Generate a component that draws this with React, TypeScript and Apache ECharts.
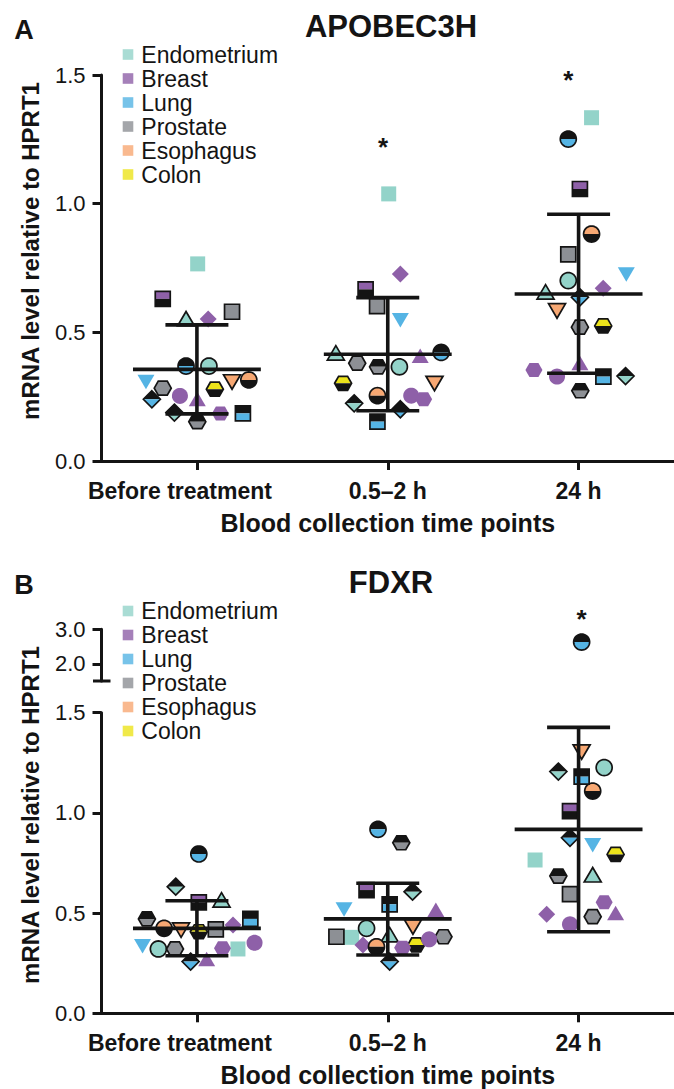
import React, { useEffect, useRef } from "react";
import * as echarts from "echarts";

const FONT = '"Liberation Sans", Arial, Helvetica, sans-serif';
const INK = "#141414";

// ---------- categories / legend ----------
const categories = ["Before treatment", "0.5–2 h", "24 h"];
const tissues = ["Endometrium", "Breast", "Lung", "Prostate", "Esophagus", "Colon"];
const tissueColors = ["#93d3c9", "#8e60a8", "#55b4e4", "#8d9095", "#f7a873", "#ece31b"];

// ---------- patient markers (P1..P19) ----------
const patientShape = [
  "square", "square", "triangle", "diamond", "square", "circle", "circle", "invTriangle", "hexagon", "invTriangle",
  "circle", "hexagon", "circle", "triangle", "diamond", "diamond", "hexagon", "square", "hexagon",
];
const patientTissue = [0, 1, 0, 1, 3, 2, 0, 2, 3, 4, 4, 5, 1, 1, 2, 0, 1, 2, 3];
const patientStyle = [
  "plain", "colorTop", "outline", "plain", "outline", "blackTop", "outline", "plain", "outline", "outline",
  "colorTop", "colorTop", "plain", "plain", "blackTop", "blackTop", "plain", "blackTop", "blackTop",
];

// ---------- Panel A: APOBEC3H (x = jittered position on a 0–3 scale, y = value) ----------
const aBeforeX = [0.504, 0.321, 0.443, 0.559, 0.684, 0.443, 0.563, 0.233, 0.321, 0.684, 0.772, 0.594, 0.411, 0.502, 0.264, 0.382, 0.623, 0.741, 0.502];
const aBeforeY = [0.766, 0.630, 0.552, 0.552, 0.580, 0.369, 0.369, 0.308, 0.283, 0.308, 0.315, 0.279, 0.253, 0.240, 0.240, 0.188, 0.185, 0.185, 0.153];
const aMidX = [1.505, 1.384, 1.228, 1.566, 1.444, 1.780, 1.561, 1.566, 1.340, 1.745, 1.446, 1.266, 1.623, 1.670, 1.566, 1.324, 1.688, 1.446, 1.449];
const aMidY = [1.038, 0.667, 0.419, 0.727, 0.602, 0.422, 0.366, 0.548, 0.380, 0.302, 0.254, 0.302, 0.254, 0.408, 0.201, 0.224, 0.240, 0.153, 0.366];
const a24X = [2.568, 2.507, 2.327, 2.629, 2.446, 2.446, 2.446, 2.750, 2.507, 2.387, 2.568, 2.629, 2.387, 2.507, 2.507, 2.746, 2.266, 2.630, 2.509];
const a24Y = [1.334, 1.057, 0.656, 0.671, 0.803, 1.251, 0.701, 0.726, 0.520, 0.584, 0.882, 0.525, 0.328, 0.380, 0.636, 0.330, 0.354, 0.328, 0.273];
const aMean = [0.356, 0.415, 0.649];
const aSdHigh = [0.529, 0.635, 0.959];
const aSdLow = [0.183, 0.195, 0.341];
const aStarX = [1.476, 2.446];
const aStarY = [1.222, 1.481];

// ---------- Panel B: FDXR ----------
const bBeforeX = [0.715, 0.510, 0.629, 0.689, 0.599, 0.510, 0.298, 0.215, 0.385, 0.417, 0.328, 0.510, 0.802, 0.551, 0.467, 0.389, 0.634, 0.780, 0.238];
const bBeforeY = [0.321, 0.554, 0.565, 0.440, 0.419, 0.795, 0.321, 0.336, 0.321, 0.416, 0.424, 0.407, 0.352, 0.270, 0.258, 0.632, 0.324, 0.471, 0.471];
const bMidX = [1.311, 1.389, 1.510, 1.370, 1.231, 1.449, 1.389, 1.271, 1.792, 1.632, 1.441, 1.649, 1.717, 1.752, 1.510, 1.630, 1.578, 1.510, 1.571];
const bMidY = [0.379, 0.615, 0.391, 0.341, 0.382, 0.918, 0.424, 0.519, 0.382, 0.432, 0.332, 0.341, 0.369, 0.515, 0.258, 0.607, 0.327, 0.544, 0.851];
const b24X = [2.272, 2.455, 2.574, 2.333, 2.455, 2.516, 2.634, 2.574, 2.574, 2.516, 2.574, 2.694, 2.455, 2.694, 2.455, 2.394, 2.634, 2.516, 2.394];
const b24Y = [0.765, 1.009, 0.690, 0.494, 0.595, 2.63, 1.226, 0.840, 0.482, 1.305, 1.109, 0.793, 0.444, 0.499, 0.876, 1.206, 0.554, 1.181, 0.685];
const bMean = [0.424, 0.471, 0.918];
const bSdHigh = [0.562, 0.649, 1.427];
const bSdLow = [0.287, 0.291, 0.407];
const bStarX = [2.516];
const bStarY = [3.31];

const yTicksLower = [0, 0.5, 1.0, 1.5];
const yTicksUpper = [2.0, 3.0];
const BREAK_AT = 1.5;

// ---------- helpers ----------
function basePoints(shape: string): number[][] {
  switch (shape) {
    case "square":
      return [[-7.5, -7.5], [7.5, -7.5], [7.5, 7.5], [-7.5, 7.5]];
    case "triangle":
      return [[0, -7.5], [8.5, 7], [-8.5, 7]];
    case "invTriangle":
      return [[-8.5, -7], [8.5, -7], [0, 7.5]];
    case "diamond":
      return [[0, -8.5], [8.5, 0], [0, 8.5], [-8.5, 0]];
    case "hexagon":
      return [[-8.5, 0], [-4.5, -7], [4.5, -7], [8.5, 0], [4.5, 7], [-4.5, 7]];
    default: {
      const pts: number[][] = [];
      for (let i = 0; i < 40; i++) {
        const t = (i / 40) * Math.PI * 2;
        pts.push([8 * Math.cos(t), 8 * Math.sin(t)]);
      }
      return pts;
    }
  }
}

function clipHalf(pts: number[][], top: boolean): number[][] {
  const out: number[][] = [];
  const inside = (q: number[]) => (top ? q[1] <= 0 : q[1] >= 0);
  for (let i = 0; i < pts.length; i++) {
    const a = pts[i];
    const b = pts[(i + 1) % pts.length];
    const ia = inside(a);
    const ib = inside(b);
    if (ia) out.push(a);
    if (ia !== ib) {
      const t = a[1] / (a[1] - b[1]);
      out.push([a[0] + t * (b[0] - a[0]), 0]);
    }
  }
  return out;
}

function renderMarker(_params: any, api: any) {
  const p = api.value(2);
  const c = api.coord([api.value(0), api.value(1)]);
  const shape = patientShape[p];
  const color = tissueColors[patientTissue[p]];
  const style = patientStyle[p];
  const base = basePoints(shape);
  const shift = (pts: number[][]) => pts.map((q) => [c[0] + q[0], c[1] + q[1]]);
  const full = shift(base);
  const children: any[] = [];
  if (style === "plain") {
    children.push({ type: "polygon", shape: { points: full }, style: { fill: color } });
  } else if (style === "outline") {
    children.push({ type: "polygon", shape: { points: full }, style: { fill: color, stroke: INK, lineWidth: 1.7 } });
  } else {
    const topColor = style === "blackTop" ? INK : color;
    const botColor = style === "blackTop" ? color : INK;
    children.push({ type: "polygon", shape: { points: shift(clipHalf(base, true)) }, style: { fill: topColor } });
    children.push({ type: "polygon", shape: { points: shift(clipHalf(base, false)) }, style: { fill: botColor } });
    children.push({ type: "polygon", shape: { points: full }, style: { fill: "none", stroke: INK, lineWidth: 1.7 } });
  }
  return { type: "group", children };
}

const MEAN_HALF = 0.335;
const SD_HALF = 0.165;
function renderBars(_params: any, api: any) {
  const xc = api.value(0);
  const m = api.value(1);
  const hi = api.value(2);
  const lo = api.value(3);
  const ln = (x1: number, y1: number, x2: number, y2: number) => {
    const a = api.coord([x1, y1]);
    const b = api.coord([x2, y2]);
    return {
      type: "line",
      shape: { x1: a[0], y1: a[1], x2: b[0], y2: b[1] },
      style: { stroke: INK, lineWidth: 3.6 },
    };
  };
  return {
    type: "group",
    children: [
      ln(xc, hi, xc, lo),
      ln(xc - MEAN_HALF, m, xc + MEAN_HALF, m),
      ln(xc - SD_HALF, hi, xc + SD_HALF, hi),
      ln(xc - SD_HALF, lo, xc + SD_HALF, lo),
    ],
  };
}

function renderStar(_params: any, api: any) {
  const c = api.coord([api.value(0), api.value(1)]);
  return {
    type: "text",
    x: c[0],
    y: c[1],
    style: {
      text: "*",
      fill: INK,
      font: `bold 26px ${FONT}`,
      align: "center",
      verticalAlign: "middle",
      textAlign: "center",
      textVerticalAlign: "middle",
    },
  };
}

const pts = (xs: number[], ys: number[]) => xs.map((x, i) => [x, ys[i], i]);
const bars = (m: number[], hi: number[], lo: number[]) => m.map((v, i) => [i + 0.5, v, hi[i], lo[i]]);
const stars = (xs: number[], ys: number[]) => xs.map((x, i) => [x, ys[i]]);

export default function App() {
  const ref = useRef<HTMLDivElement>(null);
  useEffect(() => {
    document.body.style.margin = "0";
    if (!ref.current) return;
    const chart = echarts.init(ref.current, undefined, { renderer: "svg" });

    const aPoints = [...pts(aBeforeX, aBeforeY), ...pts(aMidX, aMidY), ...pts(a24X, a24Y)];
    const bAll = [...pts(bBeforeX, bBeforeY), ...pts(bMidX, bMidY), ...pts(b24X, b24Y)];
    const bUpper = bAll.filter((d) => d[1] > BREAK_AT);
    const bLower = bAll.filter((d) => d[1] <= BREAK_AT);

    const axisLineStyle = { lineStyle: { color: INK, width: 3 } };
    const tickStyle = { show: true, length: 9, lineStyle: { color: INK, width: 3 } };
    const yLabel = { fontSize: 22, color: INK, margin: 16, fontFamily: FONT, formatter: (v: number) => v.toFixed(1) };
    const catLabelStyle = { fontSize: 23, fontWeight: "bold", color: INK, fontFamily: FONT };
    const catAxis = (gridIndex: number) => ({
      type: "category",
      gridIndex,
      data: categories,
      boundaryGap: true,
      axisLine: axisLineStyle,
      axisTick: { ...tickStyle, alignWithLabel: true, interval: 0 },
      axisLabel: {
        ...catLabelStyle,
        margin: 18,
        interval: 0,
        formatter: (v: string, i: number) => (i === 0 ? `{first|${v}}` : v),
        rich: { first: { ...catLabelStyle, padding: [0, 34, 0, 0] } },
      },
      name: "Blood collection time points",
      nameLocation: "middle",
      nameGap: 49,
      nameTextStyle: { fontSize: 25, fontWeight: "bold", color: INK, fontFamily: FONT },
      splitLine: { show: false },
    });
    const hiddenX = (gridIndex: number) => ({ type: "value", gridIndex, min: 0, max: 3, show: false });

    const legendBase = {
      orient: "vertical",
      left: 122.7,
      padding: 0,
      icon: "rect",
      itemWidth: 10.6,
      itemHeight: 10.6,
      itemGap: 0,
      selectedMode: false,
      data: tissues,
      textStyle: { fontSize: 23, color: INK, lineHeight: 24, fontFamily: FONT, padding: [0, 0, 0, 3] },
    };

    const option: any = {
      animation: false,
      backgroundColor: "#ffffff",
      textStyle: { fontFamily: FONT },
      grid: [
        { left: 101.5, top: 75, width: 576, height: 386 },
        { left: 101.5, top: 629.3, width: 576, height: 51.7 },
        { left: 101.5, top: 712.7, width: 576, height: 300.6 },
      ],
      xAxis: [catAxis(0), hiddenX(0), hiddenX(1), catAxis(2), hiddenX(2)],
      yAxis: [
        {
          type: "value", gridIndex: 0, min: yTicksLower[0], max: yTicksLower[yTicksLower.length - 1], interval: 0.5,
          axisLine: { show: true, ...axisLineStyle }, axisTick: tickStyle, axisLabel: yLabel, splitLine: { show: false },
        },
        {
          type: "value", gridIndex: 1, min: BREAK_AT, max: yTicksUpper[yTicksUpper.length - 1],
          axisLine: { show: true, ...axisLineStyle },
          axisTick: { ...tickStyle, customValues: yTicksUpper },
          axisLabel: { ...yLabel, customValues: yTicksUpper },
          splitLine: { show: false },
        },
        {
          type: "value", gridIndex: 2, min: yTicksLower[0], max: yTicksLower[yTicksLower.length - 1], interval: 0.5,
          axisLine: { show: true, ...axisLineStyle }, axisTick: tickStyle, axisLabel: yLabel, splitLine: { show: false },
        },
      ],
      legend: [
        { ...legendBase, top: 42.5 },
        { ...legendBase, top: 599 },
      ],
      graphic: [
        { type: "text", x: 24, y: 29.5, style: { text: "A", font: `bold 27px ${FONT}`, fill: INK, align: "center", verticalAlign: "middle" } },
        { type: "text", x: 391, y: 26.5, style: { text: "APOBEC3H", font: `bold 31px ${FONT}`, fill: INK, align: "center", verticalAlign: "middle" } },
        { type: "text", x: 24, y: 585, style: { text: "B", font: `bold 27px ${FONT}`, fill: INK, align: "center", verticalAlign: "middle" } },
        { type: "text", x: 391, y: 582, style: { text: "FDXR", font: `bold 31px ${FONT}`, fill: INK, align: "center", verticalAlign: "middle" } },
        {
          type: "text", x: 30, y: 251, rotation: Math.PI / 2,
          style: { text: "mRNA level relative to HPRT1", font: `bold 24px ${FONT}`, fill: INK, align: "center", verticalAlign: "middle" },
        },
        {
          type: "text", x: 30, y: 815, rotation: Math.PI / 2,
          style: { text: "mRNA level relative to HPRT1", font: `bold 24px ${FONT}`, fill: INK, align: "center", verticalAlign: "middle" },
        },
        { type: "line", shape: { x1: 93, y1: 681, x2: 110.5, y2: 681 }, style: { stroke: INK, lineWidth: 3 } },
      ],
      series: [
        ...tissues.map((t, i) => ({
          type: "scatter", name: t, xAxisIndex: 1, yAxisIndex: 0, data: [], itemStyle: { color: tissueColors[i] },
        })),
        { type: "custom", name: "APOBEC3H points", xAxisIndex: 1, yAxisIndex: 0, z: 3, renderItem: renderMarker, data: aPoints },
        { type: "custom", name: "APOBEC3H mean ± SD", xAxisIndex: 1, yAxisIndex: 0, z: 4, renderItem: renderBars, data: bars(aMean, aSdHigh, aSdLow) },
        { type: "custom", name: "APOBEC3H sig", xAxisIndex: 1, yAxisIndex: 0, z: 4, renderItem: renderStar, data: stars(aStarX, aStarY) },
        { type: "custom", name: "FDXR points high", xAxisIndex: 2, yAxisIndex: 1, z: 3, renderItem: renderMarker, data: bUpper },
        { type: "custom", name: "FDXR sig", xAxisIndex: 2, yAxisIndex: 1, z: 4, renderItem: renderStar, data: stars(bStarX, bStarY) },
        { type: "custom", name: "FDXR points", xAxisIndex: 4, yAxisIndex: 2, z: 3, renderItem: renderMarker, data: bLower },
        { type: "custom", name: "FDXR mean ± SD", xAxisIndex: 4, yAxisIndex: 2, z: 4, renderItem: renderBars, data: bars(bMean, bSdHigh, bSdLow) },
      ],
    };
    chart.setOption(option);
    return () => chart.dispose();
  }, []);
  return <div ref={ref} style={{ width: 674, height: 1089 }} />;
}
